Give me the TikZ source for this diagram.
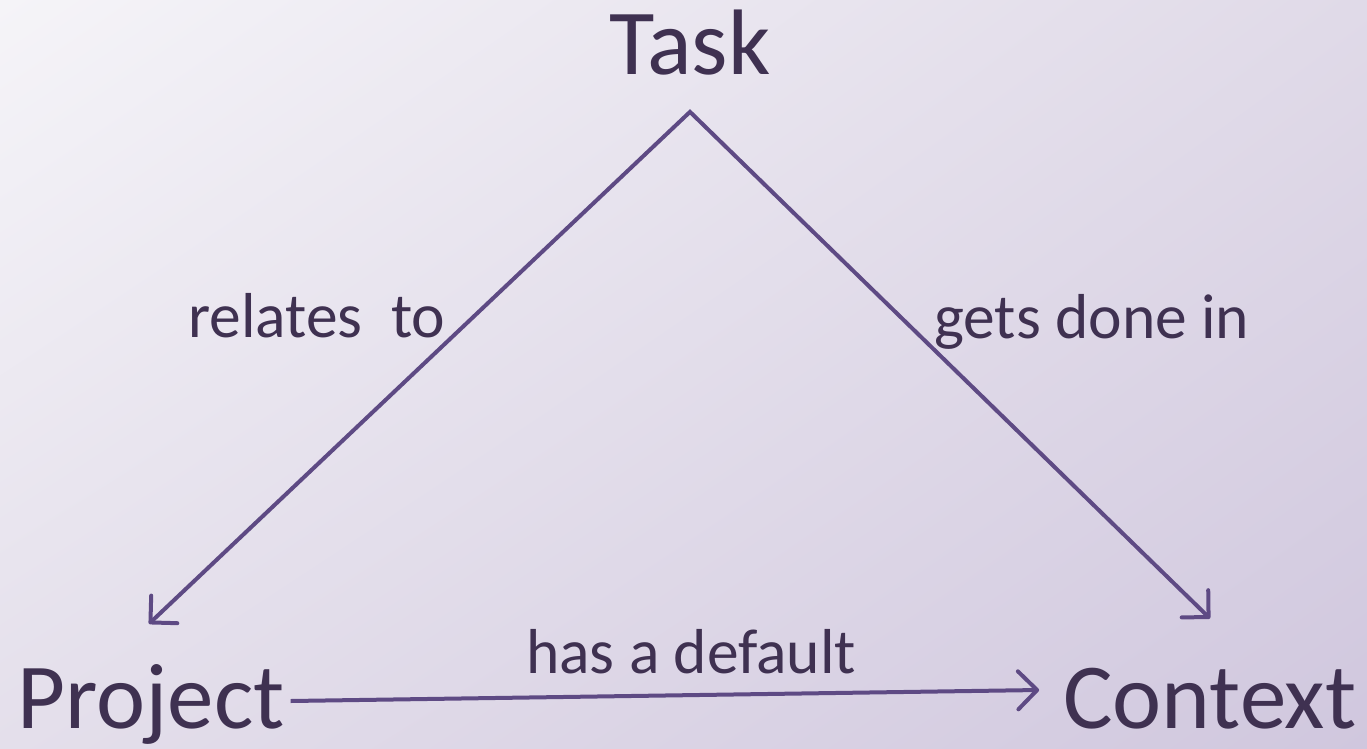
\documentclass[tikz,border=0pt]{standalone}
\usepackage{fontspec}
\setmainfont{Carlito}
\usetikzlibrary{positioning, shadings}
\usetikzlibrary{arrows.meta}
\tikzset{>={Straight Barb[length=19pt,width=38pt,round]}}
\definecolor{textpurple}{HTML}{3F3151}
\definecolor{linepurple}{HTML}{5E4A84}
\definecolor{bgul}{HTML}{F5F4F8}
\definecolor{bgur}{HTML}{E0DAE8}
\definecolor{bgll}{HTML}{E4DFEB}
\definecolor{bglr}{HTML}{D0C7DE}

\begin{document}
\begin{tikzpicture}[x=1pt, y=-1pt, bignode/.style={text=textpurple, font=\fontsize{93}{100}\selectfont, inner sep=2pt, anchor=base}, labelnode/.style={text=textpurple, font=\fontsize{63.5}{70}\selectfont, inner sep=0pt, anchor=base west}, link/.style={draw=linepurple, line width=4pt}]

    %Background
    \shade[upper left=bgul, upper right=bgur, lower left=bgll, lower right=bglr] (0,0) rectangle (1367,749);
    \useasboundingbox (0,0) rectangle (1367,749);

    %Nodes
    \node[bignode](task) at (690,75){Task};
    \node[bignode](project) at (151,728){Project};
    \node[bignode](context) at (1210,728){Context};
    \coordinate[below=34pt of task.south](apex);
    \coordinate (ptip) at ([xshift=-2pt,yshift=38pt]project.north);
    \coordinate (ctip) at ([yshift=47pt]context.north);
    \node[labelnode](relates) at (188,337){relates~~to};
    \node[labelnode](done) at (934,338){gets done in};
    \node[labelnode](default) at (526,673){has a default};

    %Lines
    \draw[link, <->] (ptip) -- (apex) -- (ctip);
    \draw[link, ->] ([xshift=4pt,yshift=27pt]project.base east) -- ([xshift=-22pt,yshift=38pt]context.base west);

\end{tikzpicture}
\end{document}
